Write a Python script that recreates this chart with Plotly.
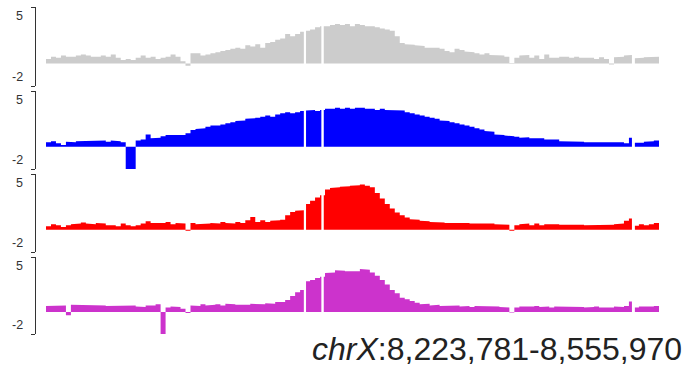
import plotly.graph_objects as go

# ---------------- data ----------------
region_chrom = "chrX"
region_start = 8223781
region_end = 8555970
bin_size = 2700
# regions without data (genomic coordinates)
gap_regions = [(8363500, 8364700), (8373000, 8374300), (8541300, 8542900)]

grey_values = [
    0.4, 0.6, 0.5, 0.7, 0.6, 0.6, 0.7, 0.8, 0.7, 0.6,
    0.6, 0.7, 0.6, 0.8, 0.5, 0.3, 0.4, 0.3, 0.5, 0.7,
    0.5, 0.6, 0.4, 0.5, 0.6, 0.8, 0.6, 0.2, -0.2, 0.9,
    0.9, 0.7, 0.8, 0.9, 1.0, 1.1, 1.2, 1.3, 1.4, 1.3,
    1.6, 1.5, 1.7, 1.4, 1.8, 1.9, 2.1, 2.2, 2.6, 2.4,
    2.6, 2.8, 2.9, 3.0, 3.2, 3.3, 3.3, 3.4, 3.5, 3.4,
    3.5, 3.3, 3.5, 3.4, 3.3, 3.3, 3.2, 3.1, 3.0, 2.9,
    2.4, 1.8, 1.7, 1.65, 1.6, 1.55, 1.4, 1.4, 1.4, 1.3,
    1.1, 1.0, 1.3, 1.2, 1.05, 1.0, 0.9, 0.8, 0.9, 0.75,
    0.75, 0.7, 0.6, -0.05, 0.5, 0.7, 0.75, 0.5, 0.7, 0.4,
    0.8, 0.5, 0.5, 0.6, 0.6, 0.5, 0.6, 0.5, 0.55, 0.5,
    0.4, 0.55, 0.4, -0.1, 0.55, 0.6, 0.7, 0.75, 0.45, 0.5,
    0.55, 0.6, 0.6,
]

blue_values = [
    0.4, 0.5, 0.3, 0.15, 0.45, 0.4, 0.5, 0.55, 0.5, 0.55,
    0.5, 0.55, 0.45, 0.55, 0.5, 0.4, -2.2, -2.2, 0.55, 0.65,
    1.1, 0.75, 0.8, 0.95, 1.05, 1.1, 1.1, 1.05, 1.2, 1.5,
    1.6, 1.65, 1.8, 1.9, 1.9, 2.0, 2.1, 2.2, 2.3, 2.35,
    2.5, 2.55, 2.6, 2.7, 2.8, 2.7, 2.9, 3.0, 3.1, 3.0,
    3.1, 3.2, 3.25, 3.3, 3.2, 3.3, 3.4, 3.4, 3.5, 3.4,
    3.5, 3.4, 3.5, 3.5, 3.4, 3.4, 3.3, 3.4, 3.3, 3.3,
    3.25, 3.25, 3.1, 3.0, 2.9, 2.8, 2.7, 2.6, 2.5, 2.35,
    2.3, 2.2, 2.1, 2.0, 1.9, 1.8, 1.65, 1.55, 1.4, 1.35,
    1.1, 1.05, 1.0, 0.95, 0.9, 0.8, 0.85, 0.75, 0.7, 0.75,
    0.65, 0.6, 0.65, 0.5, 0.5, 0.45, 0.5, 0.45, 0.4, 0.45,
    0.4, 0.45, 0.4, 0.4, 0.4, 0.4, 0.3, 0.8, 0.35, 0.35,
    0.45, 0.5, 0.55,
]

red_values = [
    0.3, 0.5, 0.4, 0.25, 0.4, 0.5, 0.55, 0.65, 0.55, 0.5,
    0.6, 0.55, 0.4, 0.4, 0.3, 0.55, 0.4, 0.3, 0.4, 0.55,
    0.75, 0.6, 0.55, 0.6, 0.7, 0.5, 0.6, 0.55, -0.1, 0.6,
    0.5, 0.55, 0.55, 0.6, 0.55, 0.7, 0.6, 0.55, 0.7, 0.6,
    0.85, 1.15, 0.7, 0.85, 0.7, 0.8, 0.85, 0.9, 1.3, 1.6,
    1.7, 1.75, 2.3, 2.6, 2.9, 3.1, 3.6, 3.75, 3.8, 3.85,
    3.9, 3.95, 4.0, 4.05, 3.95, 3.8, 3.3, 2.8, 2.3, 1.9,
    1.55, 1.3, 1.1, 0.95, 0.9, 0.8, 0.75, 0.7, 0.7, 0.65,
    0.6, 0.65, 0.6, 0.65, 0.6, 0.55, 0.6, 0.55, 0.6, 0.55,
    0.5, 0.5, 0.45, -0.1, 0.4, 0.5, 0.55, 0.4, 0.55, 0.4,
    0.5, 0.55, 0.5, 0.45, 0.5, 0.45, 0.5, 0.45, 0.4, 0.45,
    0.4, 0.45, 0.4, 0.45, 0.5, 0.55, 0.8, 1.0, 0.35, 0.5,
    0.4, 0.5, 0.6,
]

magenta_values = [
    0.55, 0.6, 0.55, 0.6, -0.3, 0.65, 0.6, 0.65, 0.6, 0.6,
    0.65, 0.6, 0.55, 0.6, 0.55, 0.6, 0.55, 0.6, 0.5, 0.45,
    0.6, 0.6, 0.7, -2.2, 0.4, 0.5, 0.45, 0.3, -0.1, 0.6,
    0.55, 0.7, 0.6, 0.65, 0.7, 0.6, 0.75, 0.7, 0.65, 0.7,
    0.65, 0.75, 0.7, 0.7, 0.8, 0.75, 0.9, 0.9, 1.1, 1.45,
    1.8, 2.0, 2.8, 2.9, 3.1, 3.2, 3.55, 3.6, 3.8, 3.75,
    3.7, 3.75, 3.7, 3.9, 3.85, 3.6, 3.3, 2.9, 2.5, 2.0,
    1.7, 1.3, 1.15, 1.0, 0.85, 0.7, 0.75, 0.6, 0.65, 0.55,
    0.6, 0.55, 0.6, 0.5, 0.55, 0.45, 0.55, 0.5, 0.5, 0.55,
    0.5, 0.45, 0.4, -0.05, 0.4, 0.5, 0.45, 0.5, 0.55, 0.45,
    0.5, 0.4, 0.5, 0.45, 0.5, 0.45, 0.5, 0.45, 0.4, 0.45,
    0.5, 0.4, 0.45, 0.4, 0.5, 0.45, 0.55, 0.95, 0.4, 0.5,
    0.45, 0.5, 0.55,
]

track_values = [grey_values, blue_values, red_values, magenta_values]
track_colors = ["#cccccc", "#0000ff", "#ff0000", "#cc33cc"]
y_min, y_max = -2, 5
y_tick_values = [-2, 5]
y_tick_labels = ["-2", "5"]


# ---------------- helpers ----------------
def build_segments(values):
    """Split the binned values into contiguous runs separated by gaps."""
    segments = []
    cur_x, cur_y = [], []
    prev_end = None
    n = len(values)
    for i, v in enumerate(values):
        a = region_start + i * bin_size
        b = region_end if i == n - 1 else a + bin_size
        pieces = [(a, b)]
        for g0, g1 in gap_regions:
            new = []
            for p0, p1 in pieces:
                if g1 <= p0 or g0 >= p1:
                    new.append((p0, p1))
                    continue
                if p0 < g0:
                    new.append((p0, g0))
                if g1 < p1:
                    new.append((g1, p1))
            pieces = new
        for p0, p1 in pieces:
            if prev_end is not None and p0 != prev_end:
                segments.append((cur_x, cur_y))
                cur_x, cur_y = [], []
            cur_x += [p0, p1]
            cur_y += [v, v]
            prev_end = p1
    segments.append((cur_x, cur_y))
    return segments


# ---------------- figure ----------------
W, H = 689, 373
m_l, m_r, m_t, m_b = 36, 29, 7, 39
plot_h = H - m_t - m_b
# pixel (top, bottom) of each track in the figure
track_px = [(7, 86), (91, 169), (174, 252), (257, 334)]
bottom_px = H - m_b

bp_per_px = (region_end - region_start) / 613.0
x_range = [region_start - 10 * bp_per_px, region_end + 1 * bp_per_px]
FONT = "Liberation Sans, Arial, sans-serif"

fig = go.Figure()
layout = dict(
    width=W, height=H,
    margin=dict(l=m_l, r=m_r, t=m_t, b=m_b, pad=0),
    paper_bgcolor="white", plot_bgcolor="white",
    showlegend=False,
    font=dict(family=FONT, color="#333333"),
)
annotations = []
for k, (vals, col) in enumerate(zip(track_values, track_colors)):
    suffix = "" if k == 0 else str(k + 1)
    for xs, ys in build_segments(vals):
        fig.add_trace(go.Scatter(
            x=xs, y=ys, mode="lines", fill="tozeroy", fillcolor=col,
            line=dict(color=col, width=0),
            xaxis="x" + suffix, yaxis="y" + suffix, hoverinfo="skip",
        ))
    top, bot = track_px[k]
    dom = [(bottom_px - bot) / plot_h, (bottom_px - top) / plot_h]
    layout["xaxis" + suffix] = dict(
        domain=[0, 1], range=x_range, visible=False, anchor="y" + suffix,
        fixedrange=True,
    )
    layout["yaxis" + suffix] = dict(
        domain=dom, range=[y_min, y_max], anchor="x" + suffix,
        showline=True, linecolor="#333333", linewidth=1.3,
        ticks="outside", ticklen=4, tickwidth=1.3, tickcolor="#333333",
        tickvals=y_tick_values, showticklabels=False,
        showgrid=False, zeroline=False, fixedrange=True,
    )
    for tv, tl in zip(y_tick_values, y_tick_labels):
        annotations.append(dict(
            x=0, xref="paper", xanchor="right", xshift=-11,
            y=tv, yref="y" + suffix,
            yanchor="top" if tv == y_max else "bottom",
            text=tl, showarrow=False,
            font=dict(size=12.5, color="#333333", family=FONT),
        ))

annotations.append(dict(
    x=(684 - m_l) / (W - m_l - m_r), xref="paper", xanchor="right",
    y=(bottom_px - 349) / plot_h, yref="paper", yanchor="middle",
    text="<i>%s</i>:%s-%s" % (region_chrom, f"{region_start:,}", f"{region_end:,}"),
    showarrow=False,
    font=dict(size=32, color="#222222", family=FONT),
))
layout["annotations"] = annotations
fig.update_layout(**layout)

fig.write_html(
    "out.html",
    config={"displayModeBar": False},
    post_script="document.body.style.margin='0';document.body.style.overflow='hidden';",
)
